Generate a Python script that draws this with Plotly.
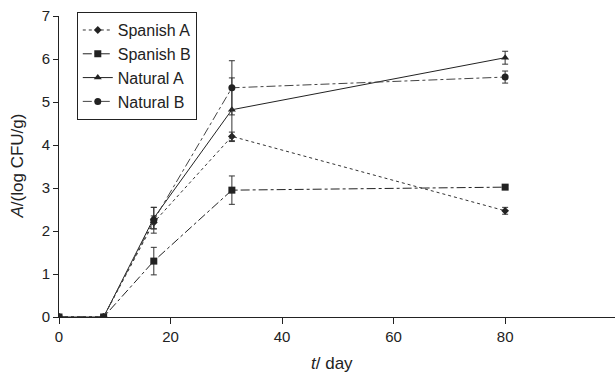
import plotly.graph_objects as go

days = [0, 8, 17, 31, 80]

spanish_a = [0, 0, 2.2, 4.2, 2.47]
spanish_a_err = [0, 0, 0.15, 0.1, 0.08]

spanish_b = [0, 0, 1.3, 2.95, 3.02]
spanish_b_err = [0, 0, 0.32, 0.33, 0.04]

natural_a = [0, 0, 2.3, 4.82, 6.03]
natural_a_err = [0, 0, 0.25, 0.74, 0.15]

natural_b = [0, 0, 2.25, 5.33, 5.58]
natural_b_err = [0, 0, 0.3, 0.63, 0.14]

series = [
    ("Spanish A", spanish_a, spanish_a_err, "dot", "diamond", 6, "#333333"),
    ("Spanish B", spanish_b, spanish_b_err, "dashdot", "square", 7, "#222222"),
    ("Natural A", natural_a, natural_a_err, "solid", "triangle-up", 7, "#222222"),
    ("Natural B", natural_b, natural_b_err, "dashdot", "circle", 7, "#444444"),
]

fig = go.Figure()
for name, vals, errs, dash, sym, sz, col in series:
    fig.add_trace(go.Scatter(
        x=days, y=vals, name=name, mode="lines+markers",
        line=dict(color=col, width=1, dash=dash),
        marker=dict(symbol=sym, size=sz, color="#222222"),
        error_y=dict(type="data", array=errs, visible=True,
                     color="#333333", thickness=1, width=3),
    ))

fig.update_layout(
    width=615, height=378,
    margin=dict(l=59, r=0, t=16, b=61),
    paper_bgcolor="white", plot_bgcolor="white",
    font=dict(family="Liberation Sans, Arial, sans-serif", size=14, color="#222222"),
    showlegend=True,
    legend=dict(
        x=0.032, y=1.013, xanchor="left", yanchor="top",
        bordercolor="#222222", borderwidth=1, bgcolor="white",
        font=dict(size=16, color="#222222"),
        tracegroupgap=0, itemwidth=30,
    ),
    xaxis=dict(
        range=[0, 99.7], tickvals=[0, 20, 40, 60, 80],
        showline=True, linecolor="#222222", linewidth=1,
        ticks="outside", ticklen=6, tickcolor="#222222",
        showgrid=False, zeroline=False, automargin=False,
        tickfont=dict(size=15),
    ),
    yaxis=dict(
        range=[0, 7], tickvals=[0, 1, 2, 3, 4, 5, 6, 7],
        showline=True, linecolor="#222222", linewidth=1,
        ticks="outside", ticklen=5, tickcolor="#222222",
        showgrid=False, zeroline=False, automargin=False,
        tickfont=dict(size=15),
    ),
    annotations=[
        dict(text="<i>t</i>/ day", xref="paper", yref="paper", x=0.491, y=0,
             xanchor="center", yanchor="middle", yshift=-46, showarrow=False,
             font=dict(size=17, color="#222222")),
        dict(text="<i>A</i>/(log CFU/g)", xref="paper", yref="paper", x=0, y=0.5,
             xanchor="center", yanchor="middle", xshift=-42, textangle=-90,
             showarrow=False, font=dict(size=17, color="#222222")),
    ],
)

fig.write_html("out.html", config={"displayModeBar": False},
               post_script="document.body.style.margin='0px';")
